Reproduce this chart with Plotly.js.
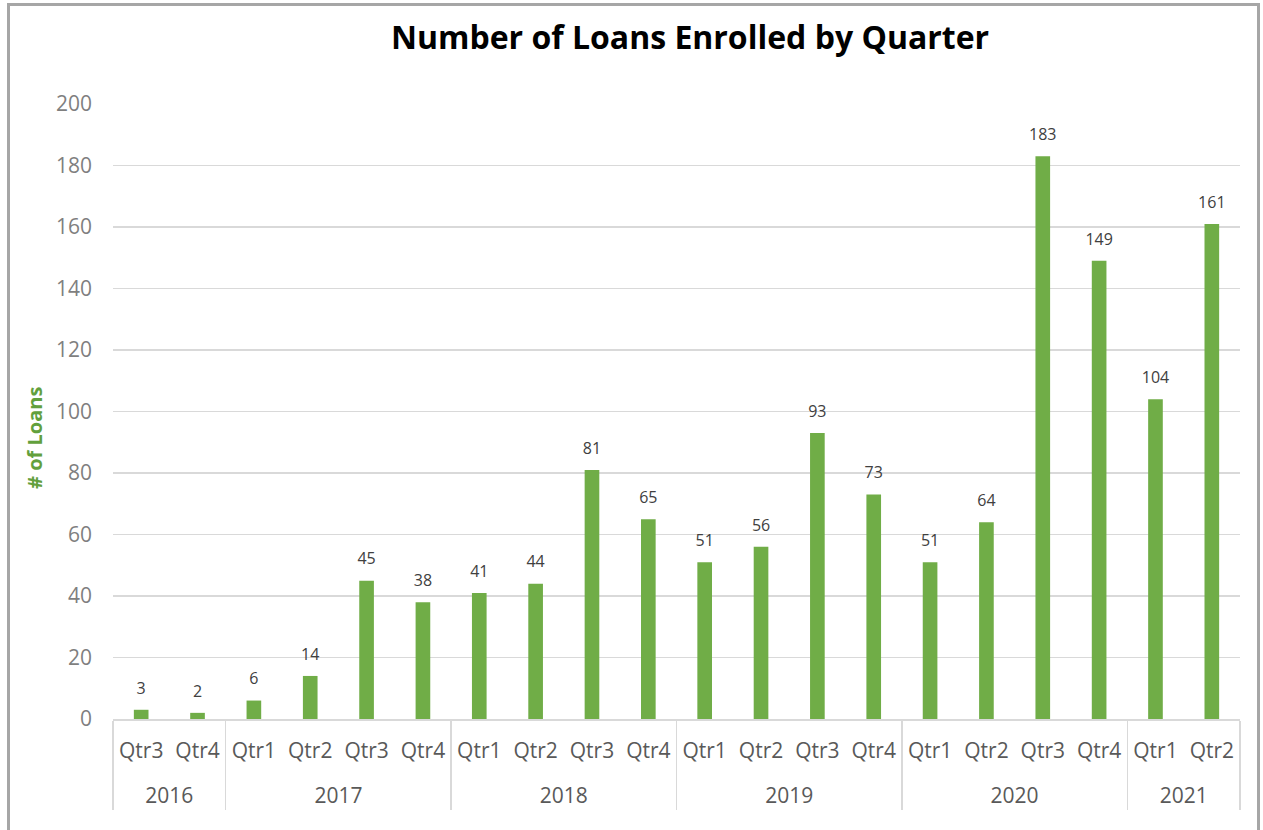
<!DOCTYPE html>
<html>
<head>
<meta charset="utf-8">
<script src="https://cdn.plot.ly/plotly-3.0.1.min.js"></script>
<style>
html,body{margin:0;padding:0;background:#fff;}
#wrap{position:relative;width:1263px;height:830px;}
#chart{position:absolute;left:0;top:0;width:1263px;height:830px;}
#frame{position:absolute;left:7px;top:3px;width:1253px;height:830px;border:3px solid #a6a6a6;border-bottom:none;pointer-events:none;box-sizing:border-box;}
</style>
</head>
<body>
<div id="wrap"><div id="chart"></div><div id="frame"></div></div>
<script>
const years = ["2016","2016","2017","2017","2017","2017","2018","2018","2018","2018","2019","2019","2019","2019","2020","2020","2020","2020","2021","2021"];
const quarters = ["Qtr3","Qtr4","Qtr1","Qtr2","Qtr3","Qtr4","Qtr1","Qtr2","Qtr3","Qtr4","Qtr1","Qtr2","Qtr3","Qtr4","Qtr1","Qtr2","Qtr3","Qtr4","Qtr1","Qtr2"];
const loans = [3,2,6,14,45,38,41,44,81,65,51,56,93,73,51,64,183,149,104,161];
const yTicks = [0,20,40,60,80,100,120,140,160,180,200];

// Plotly orders inner multicategory labels by first appearance across the whole axis;
// a zero-width suffix on the first (partial) year keeps each year's quarters in order.
const firstYear = years[0];
const quarterKeys = quarters.map((q, i) => years[i] === firstYear ? q + '\u200b' : q);
// a blank first line drops the year row lower, as in the reference
const yearKeys = years.map(y => '\u00a0<br>' + y);

const bars = {
  type: 'bar',
  x: [yearKeys, quarterKeys],
  y: loans,
  marker: {color: '#70AD47'},
  hoverinfo: 'y'
};

const labels = {
  type: 'scatter',
  mode: 'markers+text',
  x: [yearKeys, quarterKeys],
  y: loans,
  text: loans.map(String),
  textposition: 'top center',
  cliponaxis: false,
  marker: {size: 18, color: 'rgba(0,0,0,0)'},
  textfont: {family: 'Open Sans, sans-serif', size: 16, color: '#404040'},
  hoverinfo: 'skip'
};

const layout = {
  width: 1263, height: 830,
  margin: {l: 113, r: 23, t: 104, b: 111},
  paper_bgcolor: '#ffffff', plot_bgcolor: '#ffffff',
  showlegend: false,
  bargap: 0.74,
  title: {
    text: '<b>Number of Loans Enrolled by Quarter</b>',
    font: {family: 'Open Sans, sans-serif', size: 32, color: '#000000'},
    x: 0.512, xref: 'paper', xanchor: 'center',
    y: 0.955, yref: 'container', yanchor: 'middle'
  },
  xaxis: {
    type: 'multicategory',
    range: [-0.5, loans.length - 0.5],
    showgrid: false,
    showline: true, linecolor: '#d9d9d9', linewidth: 1.5,
    ticks: '',
    tickangle: 0,
    ticklabelstandoff: 12,
    tickfont: {family: 'Open Sans, sans-serif', size: 21, color: '#595959'},
    showdividers: true, dividercolor: '#d9d9d9', dividerwidth: 1.5,
    fixedrange: true
  },
  yaxis: {
    range: [0, 200],
    tickvals: yTicks,
    ticktext: yTicks.map(String),
    showgrid: true, gridcolor: '#d9d9d9', gridwidth: 1.5,
    zeroline: false, showline: false,
    ticks: '',
    ticklabelstandoff: 20,
    tickfont: {family: 'Open Sans, sans-serif', size: 21, color: '#7f7f7f'},
    fixedrange: true
  },
  annotations: [{
    text: '<b># of Loans</b>',
    textangle: -90,
    xref: 'paper', yref: 'paper',
    x: -0.0692, y: 0.457,
    xanchor: 'center', yanchor: 'middle',
    showarrow: false,
    font: {family: 'Open Sans, sans-serif', size: 20, color: '#62a03c'}
  }]
};

Plotly.newPlot('chart', [bars, labels], layout, {displayModeBar: false, staticPlot: true});
</script>
</body>
</html>
